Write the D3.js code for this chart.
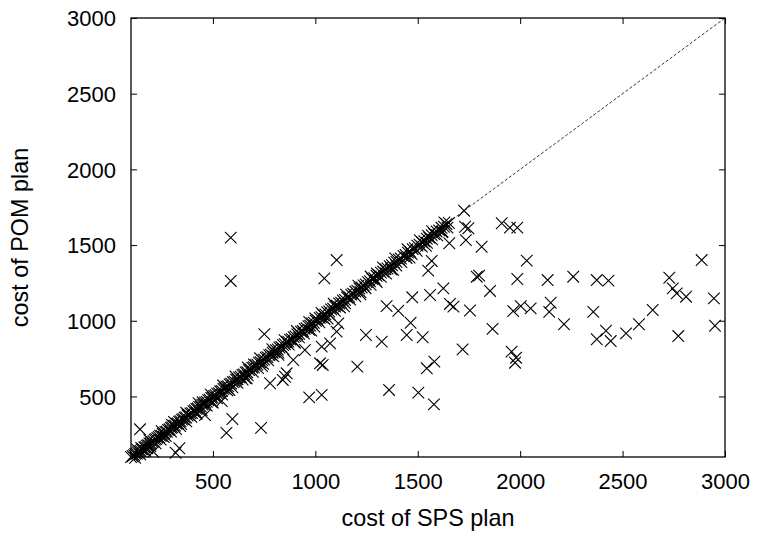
<!DOCTYPE html>
<html>
<head>
<meta charset="utf-8">
<script src="https://cdn.jsdelivr.net/npm/d3@7/dist/d3.min.js"></script>
<style>
  html, body { margin: 0; padding: 0; background: #fff; }
  svg { display: block; font-family: "Liberation Sans", Arial, Helvetica, sans-serif; }
</style>
</head>
<body>
<svg id="chart" width="758" height="537"></svg>
<script>
// ---- data ----
const xTicks = [500, 1000, 1500, 2000, 2500, 3000];
const yTicks = [500, 1000, 1500, 2000, 2500, 3000];
const xLabel = "cost of SPS plan";
const yLabel = "cost of POM plan";

// points lying (almost) on the diagonal
const diagSps = [100,108,115,121,128,134,140,147,152,158,165,171,178,184,190,197,203,210,216,223,229,236,242,249,255,262,268,275,281,288,295,301,308,315,322,329,335,342,349,356,362,369,376,383,390,398,405,412,419,426,433,441,448,455,462,470,477,484,492,499,506,514,521,529,536,544,551,559,566,574,582,589,597,605,613,620,628,636,644,652,660,668,676,684,692,700,708,717,725,733,741,750,758,766,775,783,791,800,808,817,825,834,842,851,860,868,877,886,894,903,912,921,930,939,948,957,966,975,984,993,1002,1011,1021,1030,1039,1049,1058,1068,1077,1087,1096,1106,1116,1126,1135,1145,1155,1165,1175,1185,1195,1205,1215,1226,1236,1246,1257,1267,1278,1288,1299,1309,1320,1331,1342,1352,1363,1374,1385,1396,1407,1418,1430,1441,1452,1463,1475,1486,1498,1509,1521,1532,1544,1556,1568,1580,1592,1604,1616,1628,1640,1652,
  180,260,340,420,500,580,660,740,820,900,980,1060,1140,1220,1300,1380,1460,1540,1620,
  150,300,450,700,1000,1300,1550,
  120,145,170,195,220,245,270,295,320,345,370,395,420,445,470,495,520,545,570,595,620,645,670,695,720,745,770,795,820,845,870,895,920,945,970,995,1020,1045,1070,1095,1120,1145,1170,1195,1220,1245,1270,1295,1320,1345,1370,1395,1420,1445,1470,1495,1520,1545,1570,1595,1620,1645,
  130,190,250,310,370,430,490,550,610,670,730,790,850,910,970,1030,1090,1150,1210,1270,1330,1390,1450,1510,1570,1630];
const diagPom = [100,105,112,121,122,130,138,140,150,151,163,166,175,178,189,190,200,204,215,218,226,232,241,240,252,258,266,268,279,283,292,296,306,307,320,322,333,336,347,350,360,361,374,378,388,390,402,407,418,420,431,433,446,449,460,464,475,478,490,493,504,508,519,522,534,537,549,553,564,567,580,585,595,598,611,614,626,630,642,646,658,660,674,679,690,693,706,710,723,726,739,743,756,760,773,776,789,794,806,810,823,827,840,845,858,862,875,879,892,897,910,914,928,932,946,951,964,968,982,987,1000,1004,1019,1023,1037,1042,1056,1061,1075,1080,1094,1100,1114,1119,1133,1138,1153,1158,1173,1178,1193,1198,1213,1220,1234,1240,1255,1261,1276,1282,1297,1302,1318,1325,1340,1345,1361,1367,1383,1389,1405,1411,1428,1434,1450,1456,1473,1479,1496,1502,1519,1525,1542,1549,1566,1573,1590,1597,1614,1621,1638,1646,
  158,232,305,385,460,543,620,700,775,855,935,1015,1095,1175,1255,1335,1418,1495,1585,
  160,312,462,712,1015,1312,1562,
  95,118,140,172,190,215,238,268,285,318,335,365,392,410,440,462,488,512,540,560,590,612,640,662,688,715,738,765,790,812,842,862,890,915,940,962,990,1012,1040,1065,1088,1115,1140,1162,1190,1215,1238,1265,1290,1312,1340,1365,1388,1415,1440,1462,1490,1515,1538,1565,1590,1615,
  150,212,270,332,392,455,512,572,632,692,752,812,872,932,992,1052,1112,1172,1232,1292,1352,1412,1472,1532,1592,1650];

// scattered points
const outSps = [587,587,751,144,336,318,209,566,595,543,461,779,841,665,860,
  1726,1731,1747,1735,1654,1104,1044,1568,1551,1788,1625,1560,1473,1657,1674,1755,1348,1405,1465,1446,1524,1247,1324,1719,1581,1544,1205,1104,1112,1072,1031,949,892,1023,1036,852,
  1812,1910,1950,1986,2032,1800,1986,2134,2259,2374,2431,1853,1966,2003,2051,2149,2142,2214,2357,1865,2419,2374,2442,2517,2580,2647,1958,1980,1975,
  2728,2745,2764,2810,2772,2886,2946,2951,
  970,1031,1360,1503,1579,735];
const outPom = [1549,1263,912,283,158,128,135,259,351,470,377,587,609,620,653,
  1727,1621,1611,1533,1512,1401,1280,1395,1331,1291,1214,1170,1155,1111,1093,1068,1097,1066,987,906,891,906,862,811,730,686,697,928,983,851,829,807,741,719,708,630,
  1489,1644,1615,1615,1397,1298,1276,1269,1291,1269,1265,1197,1064,1097,1082,1119,1059,977,1059,946,934,878,866,917,977,1071,796,756,723,
  1284,1214,1181,1159,899,1401,1148,967,
  494,510,543,525,448,292];

// ---- layout ----
const svg = d3.select("#chart");
const pLeft = 131, pTop = 18, pRight = 725, pBottom = 457;
const x = d3.scaleLinear().domain([100, 3000]).range([pLeft, pRight]);
const y = d3.scaleLinear().domain([100, 3000]).range([pBottom, pTop]);

const points = [];
diagSps.forEach((v, i) => points.push([v, diagPom[i]]));
outSps.forEach((v, i) => points.push([v, outPom[i]]));

// diagonal dashed line
svg.append("line")
  .attr("x1", x(100)).attr("y1", y(100))
  .attr("x2", x(3000)).attr("y2", y(3000))
  .attr("stroke", "#000").attr("stroke-width", 0.8)
  .attr("stroke-dasharray", "3,2");

// points
const s = 5.8;
svg.append("g").selectAll("path").data(points).join("path")
  .attr("transform", d => `translate(${x(d[0])},${y(d[1])})`)
  .attr("d", `M${-s},${-s}L${s},${s}M${-s},${s}L${s},${-s}`)
  .attr("stroke", "#000").attr("stroke-width", 1.1).attr("fill", "none");

// axes (gnuplot-like mirrored inward ticks)
const tickLen = 6;
const fontSize = 22;
const fmt = d3.format("d");
const bottomAxis = d3.axisBottom(x).tickValues(xTicks).tickSize(-tickLen).tickFormat(fmt);
const leftAxis = d3.axisLeft(y).tickValues(yTicks).tickSize(-tickLen).tickPadding(15).tickFormat(fmt);
const topAxis = d3.axisTop(x).tickValues(xTicks).tickSize(-tickLen).tickFormat("");
const rightAxis = d3.axisRight(y).tickValues(yTicks).tickSize(-tickLen).tickFormat("");

function style(g) {
  g.select(".domain").remove();
  g.selectAll("line").attr("stroke", "#000").attr("stroke-width", 1);
  g.selectAll("text").attr("font-size", fontSize).attr("fill", "#000")
    .attr("font-family", "Liberation Sans, Arial, sans-serif");
}
const gB = svg.append("g").attr("transform", `translate(0,${pBottom})`).call(bottomAxis).call(style);
gB.selectAll("text").attr("dy", null).attr("y", 32);
const gL = svg.append("g").attr("transform", `translate(${pLeft},0)`).call(leftAxis).call(style);
gL.selectAll("text").attr("dy", "0.35em");
svg.append("g").attr("transform", `translate(0,${pTop})`).call(topAxis).call(style);
svg.append("g").attr("transform", `translate(${pRight},0)`).call(rightAxis).call(style);

// frame
svg.append("rect")
  .attr("x", pLeft).attr("y", pTop).attr("width", pRight - pLeft).attr("height", pBottom - pTop)
  .attr("fill", "none").attr("stroke", "#000").attr("stroke-width", 1.3);

// axis titles
svg.append("text")
  .attr("x", (pLeft + pRight) / 2).attr("y", 526)
  .attr("text-anchor", "middle").attr("font-size", 23.4).attr("fill", "#000")
  .text(xLabel);
svg.append("text")
  .attr("transform", `translate(28,${(pTop + pBottom) / 2}) rotate(-90)`)
  .attr("text-anchor", "middle").attr("font-size", 23.4).attr("fill", "#000")
  .text(yLabel);
</script>
</body>
</html>
